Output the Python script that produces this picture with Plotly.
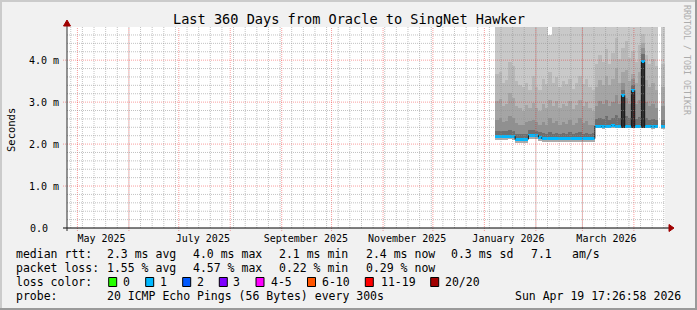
import plotly.graph_objects as go
import pandas as pd

# ---------------- data ----------------
title_text = "Last 360 Days from Oracle to SingNet Hawker"
y_title = "Seconds"
watermark = "RRDTOOL / TOBI OETIKER"
range_start = "2025-04-24 17:26:58"
range_end = "2026-04-19 17:26:58"
sample_start = "2026-01-07 12:00"
sample_days = 2

median_ms = [2.19, 2.19, 2.19, 2.19, 2.19, 2.19,
             2.11, 2.11, 2.11, 2.11,
             2.21, 2.21, 2.21,
             2.16,
             2.13, 2.13, 2.13, 2.13, 2.13, 2.13, 2.13, 2.13, 2.13, 2.13, 2.13, 2.13, 2.13, 2.13, 2.13, 2.13,
             2.43, 2.43, 2.42, 2.43, 2.43, 2.44, 2.43, 2.43,
             3.16,
             2.43, 2.43,
             3.28,
             2.43, 2.43,
             3.96,
             2.43, 2.43, 2.42, 2.43,
             None,
             2.41]

min_ms = [2.10, 2.10, 2.10, 2.10, 2.11, 2.10,
          2.03, 2.02, 2.03, 2.03,
          2.12, 2.12, 2.11,
          2.07,
          2.04, 2.04, 2.05, 2.04, 2.04, 2.04, 2.05, 2.04, 2.04, 2.04, 2.05, 2.04, 2.04, 2.04, 2.04, 2.05,
          2.38, 2.38, 2.37, 2.38, 2.38, 2.39, 2.38, 2.38,
          2.39,
          2.38, 2.38,
          2.39,
          2.38, 2.38,
          2.39,
          2.38, 2.38, 2.37, 2.38,
          None,
          2.36]

smoke1_ms = [2.31, 2.32, 2.30, 2.31, 2.34, 2.32,
             2.24, 2.23, 2.24, 2.25,
             2.33, 2.34, 2.32,
             2.28,
             2.26, 2.25, 2.29, 2.25, 2.27, 2.24, 2.26, 2.25, 2.28, 2.24, 2.26, 2.29, 2.25, 2.27, 2.24, 2.26,
             2.60, 2.63, 2.60, 2.66, 2.58, 2.63, 2.69, 2.61,
             3.30,
             2.66, 2.61,
             3.40,
             2.60, 2.64,
             4.15,
             2.62, 2.58, 2.60, 2.57,
             None,
             2.57]

smoke2_ms = [2.58, 2.62, 2.52, 2.56, 2.68, 2.62,
             2.50, 2.46, 2.45, 2.52,
             2.56, 2.58, 2.52,
             2.46,
             2.52, 2.46, 2.62, 2.50, 2.56, 2.46, 2.52, 2.47, 2.57, 2.45, 2.51, 2.62, 2.50, 2.56, 2.46, 2.45,
             2.90, 3.02, 2.95, 3.06, 2.90, 3.00, 3.16, 2.96,
             3.45,
             3.10, 2.96,
             3.55,
             2.95, 3.06,
             4.30,
             3.00, 2.90, 2.96, 2.86,
             None,
             2.90]

smoke3_ms = [3.02, 3.08, 2.90, 2.96, 3.22, 3.10,
             2.90, 2.85, 2.80, 2.92,
             2.86, 2.97, 2.85,
             2.80,
             2.96, 2.85, 3.06, 2.90, 3.02, 2.85, 2.96, 2.90, 3.02, 2.84, 2.92, 3.06, 2.90, 3.00, 2.86, 2.80,
             3.36, 3.52, 3.40, 3.62, 3.40, 3.56, 3.82, 3.46,
             3.72,
             3.76, 3.50,
             3.66,
             3.46, 3.72,
             4.40,
             3.52, 3.36, 3.46, 3.30,
             None,
             3.36]

smoke4_ms = [3.66, 3.72, 3.46, 3.52, 3.96, 3.86,
             3.50, 3.40, 3.36, 3.46,
             3.30, 3.62, 3.36,
             3.30,
             3.56, 3.42, 3.72, 3.46, 3.60, 3.36, 3.50, 3.42, 3.56, 3.32, 3.46, 3.62, 3.42, 3.56, 3.36, 3.30,
             3.90, 4.12, 3.96, 4.26, 3.92, 4.16, 4.52, 4.02,
             4.30,
             4.46, 4.06,
             4.22,
             3.96, 4.36,
             4.62,
             4.12, 3.92, 4.02, 3.86,
             None,
             3.92]

max_ms = [6.0, 6.0, 6.0, 6.0, 6.0, 6.0,
          6.0, 6.0, 6.0, 6.0,
          6.0, 6.0, 6.0,
          6.0,
          6.0, 6.0, 4.60, 6.0, 6.0, 6.0, 6.0, 6.0, 6.0, 6.0, 6.0, 6.0, 6.0, 6.0, 6.0, 6.0,
          6.0, 6.0, 6.0, 6.0, 6.0, 6.0, 6.0, 6.0,
          6.0,
          6.0, 6.0,
          6.0,
          6.0, 6.0,
          6.0,
          6.0, 6.0, 6.0, 6.0,
          None,
          6.0]

month_label_dates = ["2025-05-15 12:00", "2025-07-15 12:00", "2025-09-15 12:00",
                     "2025-11-15 12:00", "2026-01-15 12:00", "2026-03-15 12:00"]
month_labels = ["May 2025", "July 2025", "September 2025",
                "November 2025", "January 2026", "March 2026"]
y_tick_vals = [0, 1, 2, 3, 4]
y_tick_text = ["", "1.0 m", "2.0 m", "3.0 m", "4.0 m"]
y_zero_label = "0.0"

rtt_label = "median rtt:"
rtt_stats = ["2.3 ms avg", "4.0 ms max", "2.1 ms min", "2.4 ms now", "0.3 ms sd", "7.1", "am/s"]
loss_label = "packet loss:"
loss_stats = ["1.55 % avg", "4.57 % max", "0.22 % min", "0.29 % now"]
color_label = "loss color:"
loss_labels = ["0", "1", "2", "3", "4-5", "6-10", "11-19", "20/20"]
loss_colors = ["#26ff00", "#00b8ff", "#0059ff", "#7e00ff", "#ff00ff", "#ff5500", "#ff0000", "#a10000"]
probe_label = "probe:"
probe_text = "20 ICMP Echo Pings (56 Bytes) every 300s"
timestamp_text = "Sun Apr 19 17:26:58 2026"

# ---------------- layout constants (pixels) ----------------
W, H = 697, 310
PL, PR, PT, PB = 67, 665, 27, 228
Y_TOP = 4.79
MONO = "DejaVu Sans Mono"
BG = "#f1f1f1"


def X(px):
    return (px - PL) / (PR - PL)


def Y(py):
    return (PB - py) / (PB - PT)


fig = go.Figure()

dates = pd.date_range(sample_start, periods=len(median_ms), freq=f"{sample_days}D")
centers = dates + pd.Timedelta(days=sample_days / 2)
bar_w = sample_days * 86400000


def band(lower, upper, color):
    base, h = [], []
    for lo, up in zip(lower, upper):
        if lo is None or up is None:
            base.append(None)
            h.append(None)
        else:
            base.append(lo)
            h.append(up - lo)
    fig.add_trace(go.Bar(x=centers, y=h, base=base, width=bar_w,
                         marker=dict(color=color, line=dict(width=0)),
                         hoverinfo="skip", showlegend=False))


# smoke (below median: light, or dark at spikes)
lo_colors = []
for lo, md in zip(min_ms, median_ms):
    if lo is None or md is None:
        lo_colors.append("#ababab")
    else:
        lo_colors.append("#2e2e2e" if md - lo > 0.3 else "#ababab")
band(min_ms, median_ms, lo_colors)
band(median_ms, smoke1_ms, "#6e6e6e")
band(smoke1_ms, smoke2_ms, "#909090")
band(smoke2_ms, smoke3_ms, "#a5a5a5")
band(smoke3_ms, smoke4_ms, "#b8b8b8")
band(smoke4_ms, max_ms, "#c9c9c9")

# median band coloured by loss (loss bucket "1")
half = 0.035
med_lo = [m - half if m is not None else None for m in median_ms]
med_hi = [m + half if m is not None else None for m in median_ms]
band(med_lo, med_hi, loss_colors[1])

# black median line: vertical transitions
vx, vy = [], []
for i in range(1, len(median_ms)):
    a, b = median_ms[i - 1], median_ms[i]
    if a is not None and b is not None and abs(a - b) > 1e-9:
        vx += [dates[i], dates[i], None]
        vy += [a, b, None]
fig.add_trace(go.Scatter(x=vx, y=vy, mode="lines", line=dict(color="#1a1a1a", width=1),
                         hoverinfo="skip", showlegend=False))

shapes = []
# grid (drawn above data, like rrdtool)
grid_minor = "rgba(143,143,143,0.55)"
grid_major = "rgba(240,0,0,0.38)"
for d in pd.date_range("2025-04-27", "2026-04-19", freq="7D"):
    shapes.append(dict(type="line", xref="x", yref="paper", x0=d, x1=d, y0=0, y1=1,
                       line=dict(color=grid_minor, width=1, dash="1px,1px"), layer="above"))
for d in pd.date_range("2025-05-01", "2026-04-01", freq="MS"):
    shapes.append(dict(type="line", xref="x", yref="paper", x0=d, x1=d, y0=Y(231), y1=1,
                       line=dict(color=grid_major, width=1, dash="1px,1px"), layer="above"))
for k in range(1, 24):
    v = k * 0.2
    if k % 5 == 0:
        continue
    shapes.append(dict(type="line", xref="paper", yref="y", x0=0, x1=1, y0=v, y1=v,
                       line=dict(color=grid_minor, width=1, dash="1px,1px"), layer="above"))
for v in y_tick_vals[1:]:
    shapes.append(dict(type="line", xref="paper", yref="y", x0=X(63), x1=1, y0=v, y1=v,
                       line=dict(color=grid_major, width=1, dash="1px,1px"), layer="above"))

# axes lines and arrows
shapes.append(dict(type="line", xref="paper", yref="paper", x0=X(63), x1=X(670), y0=0, y1=0,
                   line=dict(color="#000000", width=1), layer="above"))
shapes.append(dict(type="line", xref="paper", yref="paper", x0=0, x1=0, y0=Y(231), y1=Y(24),
                   line=dict(color="#2a2a2a", width=1), layer="above"))
arrow = "#a00000"
shapes.append(dict(type="path", xref="paper", yref="paper",
                   path=f"M {X(669)},{Y(224.5)} L {X(674)},{Y(228)} L {X(669)},{Y(231.5)} Z",
                   fillcolor=arrow, line=dict(color=arrow, width=1), layer="above"))
shapes.append(dict(type="path", xref="paper", yref="paper",
                   path=f"M {X(63.5)},{Y(26)} L {X(67)},{Y(20)} L {X(70.5)},{Y(26)} Z",
                   fillcolor=arrow, line=dict(color=arrow, width=1), layer="above"))

# frame
shapes.append(dict(type="rect", xref="paper", yref="paper", x0=X(0), x1=X(697), y0=Y(0), y1=Y(2),
                   fillcolor="#cbcbcb", line=dict(width=0), layer="above"))
shapes.append(dict(type="rect", xref="paper", yref="paper", x0=X(0), x1=X(2), y0=Y(0), y1=Y(310),
                   fillcolor="#cbcbcb", line=dict(width=0), layer="above"))
shapes.append(dict(type="rect", xref="paper", yref="paper", x0=X(695), x1=X(697), y0=Y(0), y1=Y(310),
                   fillcolor="#9a9a9a", line=dict(width=0), layer="above"))
shapes.append(dict(type="rect", xref="paper", yref="paper", x0=X(0), x1=X(697), y0=Y(308), y1=Y(310),
                   fillcolor="#9a9a9a", line=dict(width=0), layer="above"))

# loss colour boxes
box_left = [108.7, 145.7, 182.7, 219.3, 256, 307.5, 365.3, 430.7]
label_left = [123.3, 160, 196.7, 233.3, 270.7, 321.7, 380.7, 445.3]
for bx, col in zip(box_left, loss_colors):
    shapes.append(dict(type="rect", xref="paper", yref="paper", x0=X(bx), x1=X(bx + 8),
                       y0=Y(286.5), y1=Y(277.5), fillcolor=col,
                       line=dict(color="#000000", width=1), layer="above"))

annotations = []


def txt(s, px, py, size=11.5, anchor="left", color="#000000", angle=0):
    annotations.append(dict(text=s, xref="paper", yref="paper", x=X(px), y=Y(py),
                            xanchor=anchor, yanchor="middle", showarrow=False,
                            font=dict(family=MONO, size=size, color=color),
                            textangle=angle, borderpad=0, borderwidth=0))


txt(title_text, 348.5, 19, size=13.6, anchor="center")
txt(y_title, 11, 130, size=10.5, anchor="center", angle=-90)
txt(watermark, 687, 60, size=8.3, anchor="center", color="#acacac", angle=90)
# zero label is left-aligned with the unit labels in rrdtool
annotations.append(dict(text=y_zero_label, xref="paper", yref="y", x=X(29.5), y=y_tick_vals[0],
                        xanchor="left", yanchor="middle", showarrow=False,
                        font=dict(family=MONO, size=10, color="#000000"),
                        borderpad=0, borderwidth=0))

row_y = [254, 268, 282, 296]
stat_x = [107, 193, 279, 366, 451, 531, 572]
txt(rtt_label, 16, row_y[0])
for s, px in zip(rtt_stats, stat_x):
    txt(s, px, row_y[0])
txt(loss_label, 16, row_y[1])
for s, px in zip(loss_stats, stat_x):
    txt(s, px, row_y[1])
txt(color_label, 16, row_y[2])
for s, px in zip(loss_labels, label_left):
    txt(s, px, row_y[2])
txt(probe_label, 16, row_y[3])
txt(probe_text, 107, row_y[3])
txt(timestamp_text, 681, row_y[3], anchor="right")

fig.update_layout(
    width=W, height=H,
    margin=dict(l=PL, r=W - PR, t=PT, b=H - PB, autoexpand=False),
    paper_bgcolor=BG, plot_bgcolor="#ffffff",
    barmode="overlay", bargap=0,
    showlegend=False, hovermode=False,
    shapes=shapes, annotations=annotations,
    xaxis=dict(type="date", range=[range_start, range_end], showgrid=False, zeroline=False,
               showline=False, tickmode="array", tickvals=month_label_dates, ticktext=month_labels,
               ticks="outside", ticklen=1, tickcolor="rgba(0,0,0,0)",
               tickfont=dict(family=MONO, size=10, color="#000000"), fixedrange=True),
    yaxis=dict(range=[0, Y_TOP], showgrid=False, zeroline=False, showline=False,
               tickmode="array", tickvals=y_tick_vals, ticktext=y_tick_text,
               ticks="outside", ticklen=5, tickcolor="rgba(0,0,0,0)",
               tickfont=dict(family=MONO, size=10, color="#000000"), fixedrange=True),
)

fig.write_html("out.html", config={"displayModeBar": False, "staticPlot": True})
